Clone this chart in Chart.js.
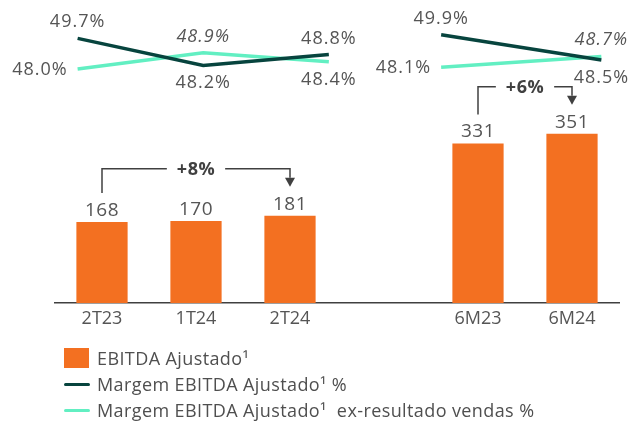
<!DOCTYPE html>
<html>
<head>
<meta charset="utf-8">
<script src="https://cdn.jsdelivr.net/npm/chart.js@4.4.1/dist/chart.umd.min.js"></script>
<style>
    body { margin: 0; background: #fff; font-family: 'Open Sans', sans-serif; }
    #wrap { position: relative; width: 633px; height: 421px; }
    #legend { position: absolute; left: 64px; top: 345px; color: #4f4f4f; font-size: 18px; letter-spacing: 0.4px; }
    .lg-row { display: flex; align-items: center; height: 26px; white-space: pre; }
    .lg-box { width: 25px; height: 20px; margin-right: 8px; }
    .lg-line { width: 26px; height: 3px; margin-right: 7px; border-radius: 2px; }
</style>
</head>
<body>
<div id="wrap">
    <canvas id="chart" width="633" height="421"></canvas>
    <div id="legend"></div>
</div>
<script>
// 카테고리 (가운데 빈 칸은 분기 / 반기 구분용)
const categories = ['2T23', '1T24', '2T24', '', '6M23', '6M24'];
const ebitda = [168, 170, 181, null, 331, 351];

// 마진 라인 (분기 그룹, 반기 그룹)
const marginQuarter = [49.7, 48.2, 48.8];
const marginHalf = [49.9, 48.5];
const marginExQuarter = [48.0, 48.9, 48.4];
const marginExHalf = [48.1, 48.7];

// 성장률 화살표
const growthText = ['+8%', '+6%'];
const growthFrom = ['2T23', '6M23'];
const growthTo = ['2T24', '6M24'];

const legendNames = [
    'EBITDA Ajustado¹',
    'Margem EBITDA Ajustado¹ %',
    'Margem EBITDA Ajustado¹  ex-resultado vendas %'
];

const COLORS = { bar: '#f37021', dark: '#07443e', light: '#62efc2', text: '#555555', axis: '#404040' };
const FONT = "'Open Sans', sans-serif";

const toPoints = arr => arr.map((v, i) => ({ x: i, y: v }));

// 막대/라인 값 라벨 + 성장률 브라켓
const labelPlugin = {
    id: 'labels',
    afterDatasetsDraw(chart) {
        const ctx = chart.ctx;
        ctx.save();
        ctx.fillStyle = COLORS.text;

        chart.data.datasets.forEach((ds, di) => {
            const meta = chart.getDatasetMeta(di);
            if (ds.type === 'bar') {
                ctx.font = `19px ${FONT}`;
                ctx.letterSpacing = '0.5px';
                ctx.textAlign = 'center';
                ctx.textBaseline = 'alphabetic';
                meta.data.forEach((el, i) => {
                    if (ds.data[i] == null) return;
                    ctx.fillText(String(ds.data[i]), el.x, el.y - 6);
                });
            } else {
                ctx.letterSpacing = '1px';
                meta.data.forEach((pt, i) => {
                    const txt = ds.data[i].y.toFixed(1) + '%';
                    const pos = ds.labelPos[i];
                    ctx.font = `${ds.italic && ds.italic[i] ? 'italic ' : ''}18px ${FONT}`;
                    ctx.textBaseline = 'alphabetic';
                    if (pos === 'left') {
                        ctx.textAlign = 'right';
                        ctx.fillText(txt, pt.x - 10, pt.y + 6);
                    } else if (pos === 'above') {
                        ctx.textAlign = 'center';
                        ctx.fillText(txt, pt.x, pt.y - 11);
                    } else {
                        ctx.textAlign = 'center';
                        ctx.fillText(txt, pt.x, pt.y + 23);
                    }
                });
            }
        });

        // 성장률 브라켓
        const x = chart.scales.x, y = chart.scales.y;
        ctx.strokeStyle = COLORS.axis;
        ctx.fillStyle = COLORS.axis;
        ctx.lineWidth = 1.5;
        ctx.letterSpacing = '0.5px';
        growthText.forEach((txt, k) => {
            const i0 = categories.indexOf(growthFrom[k]);
            const i1 = categories.indexOf(growthTo[k]);
            const x0 = x.getPixelForValue(i0), x1 = x.getPixelForValue(i1);
            const top0 = y.getPixelForValue(ebitda[i0]);
            const top1 = y.getPixelForValue(ebitda[i1]);
            const yTop = Math.min(top0, top1) - 47;
            const mid = (x0 + x1) / 2;
            ctx.font = `bold 18px ${FONT}`;
            const half = ctx.measureText(txt).width / 2 + 10;

            ctx.beginPath();
            ctx.moveTo(x0, top0 - 29);
            ctx.lineTo(x0, yTop);
            ctx.lineTo(mid - half, yTop);
            ctx.moveTo(mid + half, yTop);
            ctx.lineTo(x1, yTop);
            ctx.lineTo(x1, top1 - 38);
            ctx.stroke();

            // 화살촉
            ctx.beginPath();
            ctx.moveTo(x1 - 5, top1 - 38);
            ctx.lineTo(x1 + 5, top1 - 38);
            ctx.lineTo(x1, top1 - 29);
            ctx.closePath();
            ctx.fill();

            ctx.textAlign = 'center';
            ctx.textBaseline = 'middle';
            ctx.fillText(txt, mid, yTop + 1);
        });
        ctx.restore();
    }
};

const chart = new Chart(document.getElementById('chart'), {
    data: {
        labels: categories,
        datasets: [
            {
                type: 'bar', label: legendNames[0], data: ebitda,
                backgroundColor: COLORS.bar, barPercentage: 0.545, categoryPercentage: 1, grouped: false,
                xAxisID: 'x', yAxisID: 'y'
            },
            {
                type: 'line', label: legendNames[1], data: toPoints(marginQuarter),
                borderColor: COLORS.dark, borderWidth: 3.5, pointRadius: 0, tension: 0,
                xAxisID: 'xq', yAxisID: 'ym', labelPos: ['above', 'below', 'above']
            },
            {
                type: 'line', label: legendNames[1], data: toPoints(marginHalf),
                borderColor: COLORS.dark, borderWidth: 3.5, pointRadius: 0, tension: 0,
                xAxisID: 'xh', yAxisID: 'ym', labelPos: ['above', 'below']
            },
            {
                type: 'line', label: legendNames[2], data: toPoints(marginExQuarter),
                borderColor: COLORS.light, borderWidth: 3.5, pointRadius: 0, tension: 0,
                xAxisID: 'xq', yAxisID: 'ym', labelPos: ['left', 'above', 'below'], italic: [false, true, false]
            },
            {
                type: 'line', label: legendNames[2], data: toPoints(marginExHalf),
                borderColor: COLORS.light, borderWidth: 3.5, pointRadius: 0, tension: 0,
                xAxisID: 'xh', yAxisID: 'ym', labelPos: ['left', 'above'], italic: [false, true]
            }
        ]
    },
    options: {
        responsive: false,
        animation: false,
        layout: { padding: { left: 55, right: 14, top: 6, bottom: 81 } },
        plugins: { legend: { display: false }, tooltip: { enabled: false } },
        scales: {
            x: {
                type: 'category',
                grid: { display: false, drawTicks: false },
                border: { display: true, color: COLORS.axis, width: 1.5 },
                ticks: { color: COLORS.text, font: { family: FONT, size: 18 }, padding: 5 },
                afterFit: s => { s.height = 37; }
            },
            xq: { type: 'linear', display: false, min: -0.18, max: 4.31 },
            xh: { type: 'linear', display: false, min: -2.41, max: 1.11 },
            y: { display: false, min: 0, max: 616 },
            ym: { display: false, min: 35, max: 51.5 }
        }
    },
    plugins: [labelPlugin]
});

// HTML 범례
const legendEl = document.getElementById('legend');
[
    { name: legendNames[0], color: COLORS.bar, kind: 'box' },
    { name: legendNames[1], color: COLORS.dark, kind: 'line' },
    { name: legendNames[2], color: COLORS.light, kind: 'line' }
].forEach(item => {
    legendEl.innerHTML += `<div class="lg-row"><span class="lg-${item.kind}" style="background:${item.color}"></span>${item.name}</div>`;
});
</script>
</body>
</html>
